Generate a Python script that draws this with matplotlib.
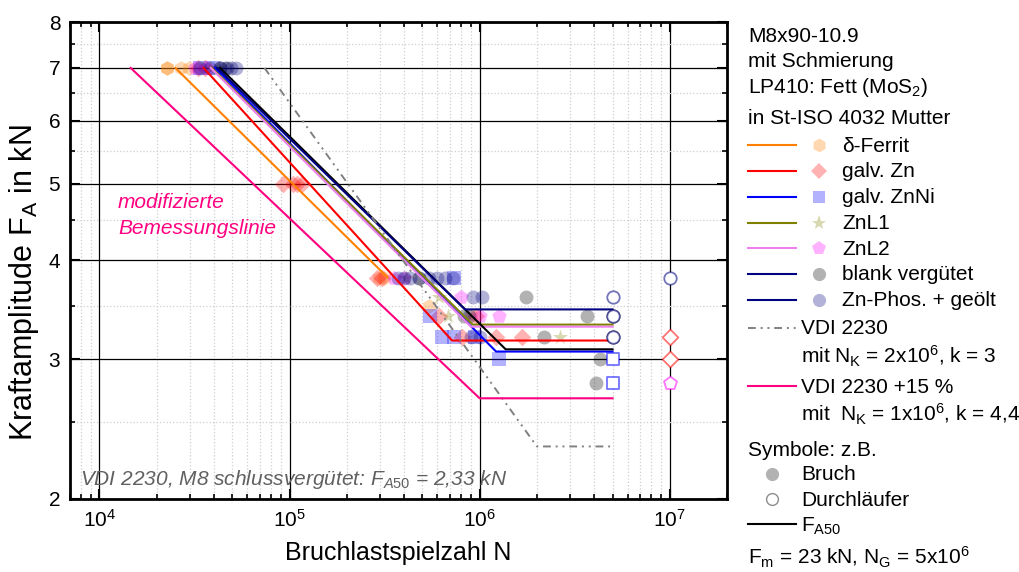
import numpy as np
import matplotlib
matplotlib.use('Agg')
import matplotlib.pyplot as plt
from matplotlib.lines import Line2D
from matplotlib.ticker import FixedLocator, FixedFormatter, LogLocator, LogFormatterMathtext, NullFormatter
from matplotlib.colors import to_rgba

plt.rcParams['font.family'] = ['Liberation Sans', 'DejaVu Sans']
plt.rcParams['mathtext.fontset'] = 'custom'
plt.rcParams['mathtext.rm'] = 'Liberation Sans'
plt.rcParams['mathtext.it'] = 'Liberation Sans:italic'
plt.rcParams['mathtext.bf'] = 'Liberation Sans:bold'
plt.rcParams['mathtext.default'] = 'regular'

# ---------------- data ----------------
y_ticks = [2, 3, 4, 5, 6, 7, 8]
y_ticklabels = ['2', '3', '4', '5', '6', '7', '8']
y_minor = [2.5, 3.5, 4.5, 5.5, 6.5, 7.5]

# delta-Ferrit
ferrit_break_N = [2.28e4, 2.28e4, 2.7e4, 2.95e4, 2.95e5, 3.15e5, 5.43e5, 9.0e5]
ferrit_break_F = [7, 7, 7, 7, 3.8, 3.8, 3.5, 3.4]
ferrit_line_N = [2.51e4, 3.27e5]
ferrit_line_F = [7, 3.81]

# galv. Zn
zn_break_N = [3.3e4, 3.6e4, 9.2e4, 1.04e5, 1.1e5, 1.16e5, 2.9e5, 3.05e5, 6.1e5, 9.6e5, 8.1e5, 1.22e6, 1.68e6]
zn_break_F = [7, 7, 5, 5, 5, 5, 3.8, 3.8, 3.4, 3.4, 3.2, 3.2, 3.2]
zn_run_N = [1e7, 1e7]
zn_run_F = [3.2, 3.0]
zn_line_N = [3.53e4, 7.16e5, 5e6]
zn_line_F = [7, 3.17, 3.17]

# galv. ZnNi
znni_break_N = [3.4e4, 4.0e4, 7.3e5, 5.45e5, 6.35e5, 7.3e5, 9.5e5, 1.26e6]
znni_break_F = [7, 7, 3.8, 3.4, 3.2, 3.2, 3.2, 3.0]
znni_run_N = [5e6, 5e6]
znni_run_F = [3.0, 2.8]
znni_line_N = [4.06e4, 1.22e6, 5e6]
znni_line_F = [7, 3.07, 3.07]

# ZnL1
znl1_break_N = [3.8e4, 4.2e4, 4.1e5, 6.1e5, 6.8e5, 2.63e6]
znl1_break_F = [7, 7, 3.8, 3.6, 3.4, 3.2]
znl1_line_N = [3.9e4, 9.2e5, 5e6]
znl1_line_F = [7, 3.32, 3.32]

# ZnL2
znl2_break_N = [3.2e4, 3.7e4, 3.56e5, 4.0e5, 8.0e5, 1.0e6, 1.26e6]
znl2_break_F = [7, 7, 3.8, 3.8, 3.6, 3.4, 3.4]
znl2_run_N = [1e7]
znl2_run_F = [2.8]
znl2_line_N = [3.85e4, 9.0e5, 5e6]
znl2_line_F = [7, 3.30, 3.30]

# blank verguetet
blank_break_N = [4.3e4, 4.7e4, 4.8e5, 1.75e6, 8.3e5, 3.65e6, 2.17e6, 4.3e6, 4.1e6]
blank_break_F = [7, 7, 3.8, 3.6, 3.4, 3.4, 3.2, 3.0, 2.8]
blank_run_N = [5e6, 5e6]
blank_run_F = [3.4, 3.2]
blank_line_N = [4.31e4, 1.37e6, 5e6]
blank_line_F = [7, 3.09, 3.09]

# Zn-Phos. + geoelt
phos_break_N = [3.4e4, 3.8e4, 4.3e4, 4.6e4, 4.9e4, 5.2e4,
                3.7e5, 4.0e5, 4.3e5, 4.8e5, 5.4e5, 6.0e5, 6.6e5, 7.2e5,
                9.2e5, 1.03e6, 8.8e5, 9.0e5, 1.0e6]
phos_break_F = [7, 7, 7, 7, 7, 7,
                3.8, 3.8, 3.8, 3.8, 3.8, 3.8, 3.8, 3.8,
                3.6, 3.6, 3.4, 3.2, 3.2]
phos_run_N = [5e6, 5e6, 5e6, 1e7]
phos_run_F = [3.6, 3.4, 3.2, 3.8]
phos_line_N = [4.16e4, 8.37e5, 5e6]
phos_line_F = [7, 3.47, 3.47]

# VDI 2230 (F_A50 = 2.33 kN, N_K = 2e6, k = 3)
vdi_N = [7.38e4, 2e6, 5e6]
vdi_F = [7, 2.33, 2.33]
# VDI 2230 + 15 % (N_K = 1e6, k = 4.4)
vdi15_N = [1.46e4, 1e6, 5e6]
vdi15_F = [7, 2.68, 2.68]

# ---------------- figure ----------------
W, H = 1019, 572
fig = plt.figure(figsize=(W / 100, H / 100), dpi=100)
ax = fig.add_axes([70 / W, 1 - 499 / H, (727 - 70) / W, (499 - 22) / H])
ax.set_xscale('log')
ax.set_yscale('log')
ax.set_xlim(7e3, 2e7)
ax.set_ylim(2, 8)

ax.yaxis.set_major_locator(FixedLocator(y_ticks))
ax.yaxis.set_major_formatter(FixedFormatter(y_ticklabels))
ax.yaxis.set_minor_locator(FixedLocator(y_minor))
ax.yaxis.set_minor_formatter(NullFormatter())
ax.xaxis.set_major_locator(LogLocator(base=10, numticks=10))
ax.xaxis.set_major_formatter(LogFormatterMathtext())
ax.xaxis.set_minor_locator(LogLocator(base=10, subs=np.arange(2, 10), numticks=20))
ax.xaxis.set_minor_formatter(NullFormatter())

ax.grid(which='minor', color='#cfcfcf', linestyle=':', linewidth=0.9, zorder=0)
ax.grid(which='major', color='black', linestyle='-', linewidth=0.9, zorder=0)
ax.set_axisbelow(True)
ax.tick_params(which='both', direction='in', top=True, right=True, labelsize=15)
ax.tick_params(which='major', length=7, width=1.5, pad=7)
ax.tick_params(which='minor', length=3.5, width=1.2)
for s in ax.spines.values():
    s.set_linewidth(2)

A = 0.3
series = [
    (ferrit_break_N, ferrit_break_F, None, None, ferrit_line_N, ferrit_line_F, '#ff8000', '#ff8000', 'h', 110),
    (zn_break_N, zn_break_F, zn_run_N, zn_run_F, zn_line_N, zn_line_F, '#ff0000', '#ff0000', 'D', 80),
    (znni_break_N, znni_break_F, znni_run_N, znni_run_F, znni_line_N, znni_line_F, '#0000ff', '#0000ff', 's', 90),
    (znl1_break_N, znl1_break_F, None, None, znl1_line_N, znl1_line_F, '#808000', '#808000', '*', 130),
    (znl2_break_N, znl2_break_F, znl2_run_N, znl2_run_F, znl2_line_N, znl2_line_F, '#ee82ee', '#ff00ff', 'p', 120),
    (blank_break_N, blank_break_F, blank_run_N, blank_run_F, blank_line_N, blank_line_F, '#000000', '#000000', 'o', 100),
    (phos_break_N, phos_break_F, phos_run_N, phos_run_F, phos_line_N, phos_line_F, '#000080', '#000080', 'o', 100),
]

for bN, bF, rN, rF, lN, lF, lc, mc, mk, ms in series:
    ax.scatter(bN, bF, s=ms, marker=mk, color=mc, alpha=A, linewidths=0, zorder=3)

for bN, bF, rN, rF, lN, lF, lc, mc, mk, ms in series:
    ax.plot(lN, lF, color=lc, linewidth=1.5, zorder=4)

ax.plot(vdi_N, vdi_F, color='#808080', linewidth=1.4, dashes=(4, 2.5, 1, 2.5, 1, 2.5), zorder=4)
ax.plot(vdi15_N, vdi15_F, color='#ff0080', linewidth=1.5, zorder=4)

for bN, bF, rN, rF, lN, lF, lc, mc, mk, ms in series:
    if rN is not None:
        ax.scatter(rN, rF, s=ms * 0.8, marker=mk, facecolors='white',
                   edgecolors=[to_rgba(mc, 0.55)], linewidths=1.3, zorder=5)


def P(x, y):
    return (x / W, 1 - y / H)


# annotations inside plot
fig.text(*P(118, 208), 'modifizierte', color='#ff0080', fontsize=15, style='italic', va='baseline')
fig.text(*P(118, 233.5), 'Bemessungslinie', color='#ff0080', fontsize=15, style='italic', va='baseline')
fig.text(*P(80, 485), r'VDI 2230, M8 schlussvergütet: F$_{\mathit{A50}}$ = 2,33 kN', color='#606060',
         fontsize=15, style='italic', va='baseline')

# axis labels
fig.text(*P(398, 560), 'Bruchlastspielzahl N', fontsize=18, ha='center', va='baseline')
fig.text(*P(24, 283), r'Kraftamplitude F$_\mathrm{A}$ in kN', fontsize=22, ha='center', va='center',
         rotation=90)

# ---------------- manual legend ----------------
FS = 15
x_head = 748
x_l0, x_l1 = 748, 796
x_mk = 819
x_txt = 842
x_txt2 = 801

fig.text(*P(x_head, 41.7), 'M8x90-10.9', fontsize=FS, va='baseline')
fig.text(*P(x_head, 66.7), 'mit Schmierung', fontsize=FS, va='baseline')
fig.text(*P(x_head, 92.7), r'LP410: Fett (MoS$_2$)', fontsize=FS, va='baseline')
fig.text(*P(x_head, 124), 'in St-ISO 4032 Mutter', fontsize=FS, va='baseline')

leg_names = ['δ-Ferrit', 'galv. Zn', 'galv. ZnNi', 'ZnL1', 'ZnL2', 'blank vergütet', 'Zn-Phos. + geölt']
leg_line_colors = ['#ff8000', '#ff0000', '#0000ff', '#808000', '#ee82ee', '#000080', '#000080']
leg_base = [151.7, 177.3, 203.3, 229, 255, 280.5, 306.5]
for (bN, bF, rN, rF, lN, lF, lc, mc, mk, ms), name, llc, yb in zip(series, leg_names, leg_line_colors, leg_base):
    yc = yb - 6.5
    fig.add_artist(Line2D([x_l0 / W, x_l1 / W], [1 - yc / H] * 2, color=llc, linewidth=1.5,
                          transform=fig.transFigure))
    fig.add_artist(Line2D([x_mk / W], [1 - yc / H], marker=mk, markersize=np.sqrt(ms) * 0.95,
                          markerfacecolor=to_rgba(mc, A), markeredgewidth=0, linestyle='none',
                          transform=fig.transFigure))
    fig.text(*P(x_txt, yb), name, fontsize=FS, va='baseline')

yc = 334 - 6.5
fig.add_artist(Line2D([x_l0 / W, x_l1 / W], [1 - yc / H] * 2, color='#808080', linewidth=1.4,
                      dashes=(4, 2.5, 1, 2.5, 1, 2.5), transform=fig.transFigure))
fig.text(*P(x_txt2, 334), 'VDI 2230', fontsize=FS, va='baseline')
fig.text(*P(x_txt2, 363.3), r'mit N$_\mathrm{K}$ = 2x10$^6$, k = 3', fontsize=FS, va='baseline')
yc = 392.7 - 6.5
fig.add_artist(Line2D([x_l0 / W, x_l1 / W], [1 - yc / H] * 2, color='#ff0080', linewidth=1.5,
                      transform=fig.transFigure))
fig.text(*P(x_txt2, 392.7), 'VDI 2230 +15 %', fontsize=FS, va='baseline')
fig.text(*P(x_txt2, 421.7), r'mit  N$_\mathrm{K}$ = 1x10$^6$, k = 4,4', fontsize=FS, va='baseline')
fig.text(*P(x_head, 456), 'Symbole: z.B.', fontsize=FS, va='baseline')
yc = 480 - 6.5
fig.add_artist(Line2D([772 / W], [1 - yc / H], marker='o', markersize=9.5, markerfacecolor=to_rgba('black', A),
                      markeredgewidth=0, linestyle='none', transform=fig.transFigure))
fig.text(*P(x_txt2, 480), 'Bruch', fontsize=FS, va='baseline')
yc = 505.7 - 6.5
fig.add_artist(Line2D([772 / W], [1 - yc / H], marker='o', markersize=8.5, markerfacecolor='white',
                      markeredgecolor=to_rgba('black', 0.45), markeredgewidth=1.0, linestyle='none',
                      transform=fig.transFigure))
fig.text(*P(x_txt2, 505.7), 'Durchläufer', fontsize=FS, va='baseline')
yc = 523.5
fig.add_artist(Line2D([x_l0 / W, x_l1 / W], [1 - yc / H] * 2, color='black', linewidth=1.5,
                      transform=fig.transFigure))
fig.text(*P(x_txt2, 531.7), r'F$_\mathrm{A50}$', fontsize=FS, va='baseline')
fig.text(*P(x_head, 564), r'F$_\mathrm{m}$ = 23 kN, N$_\mathrm{G}$ = 5x10$^6$', fontsize=FS, va='baseline')

fig.savefig('out.png', dpi=100, facecolor='white')
